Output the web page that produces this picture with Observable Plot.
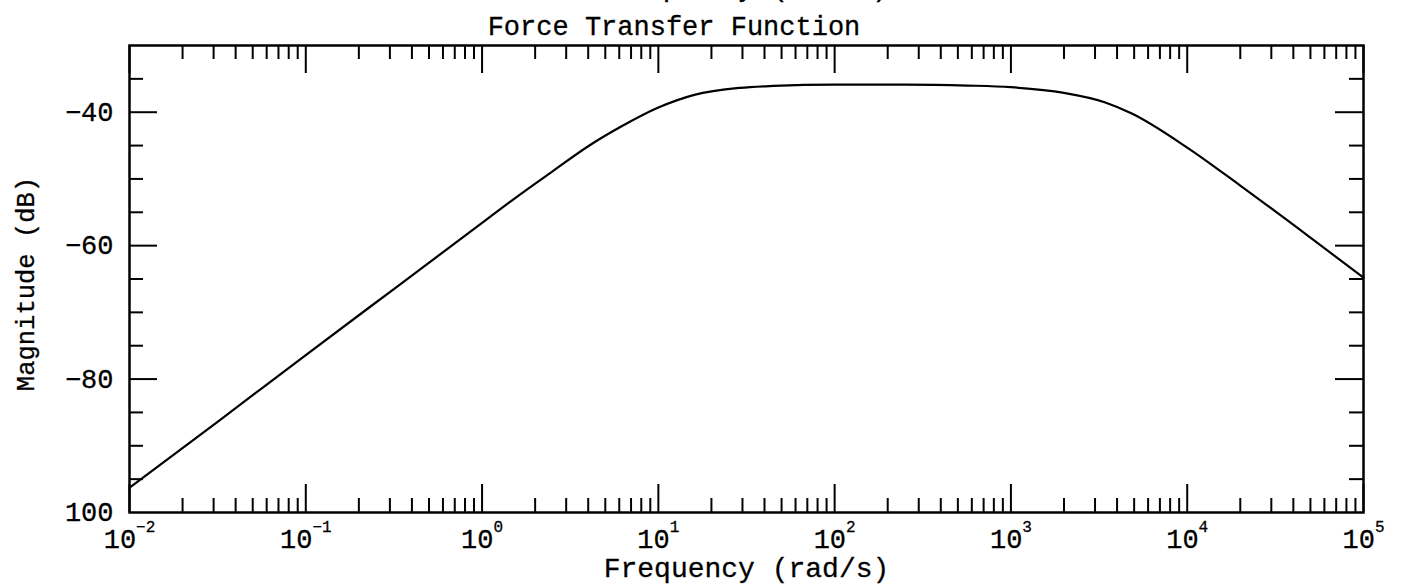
<!DOCTYPE html>
<html><head><meta charset="utf-8">
<script src="https://cdn.jsdelivr.net/npm/d3@7"></script>
<script src="https://cdn.jsdelivr.net/npm/@observablehq/plot@0.6"></script>
<style>
html,body{margin:0;padding:0;background:#fff;overflow:hidden}
#wrap{position:relative;width:1407px;height:585px;overflow:hidden;font-family:"Liberation Mono",monospace;color:#000;background:#fff}
.t{position:absolute;z-index:2;white-space:nowrap;font-size:27px;line-height:1;transform:translateX(-50%);-webkit-text-stroke:0.3px #000}
#chart{position:absolute;left:0;top:0;z-index:1}
#chart svg text{stroke:#000;stroke-width:0.3px}
</style></head><body>
<div id="wrap">
<div id="chart"></div>
<div class="t" id="prev"></div>
<div class="t" id="title"></div>
</div>
<script>
// ---- data ----
const frequency = [0.01, 0.0316, 0.1, 0.316, 1, 1.5, 2.5, 4, 6.3, 10, 16, 29, 45, 100, 250, 566, 1000, 2000, 3400, 4850, 10000, 20000, 50000, 100000];
const magnitude = [-96.3, -86.4, -76.4, -66.5, -56.6, -53.1, -48.9, -45.1, -42.0, -39.3, -37.4, -36.35, -36.05, -35.85, -35.85, -36.0, -36.25, -37.1, -38.5, -40.2, -45.3, -51.0, -58.8, -64.8];

const xDecades = [1e-2, 1e-1, 1e0, 1e1, 1e2, 1e3, 1e4, 1e5];
const xExponents = ["−2", "−1", "0", "1", "2", "3", "4", "5"];
const xMinorMultipliers = [2, 3, 4, 5, 6, 7, 8, 9];
const yMajor = [-40, -60, -80, -100];
const yTickLabels = ["−40", "−60", "−80", "100"];
const yMinor = [-35, -45, -50, -55, -65, -70, -75, -85, -90, -95];

const prevLabel = "Frequency (rad/s)";
const title = "Force Transfer Function";
const xLabel = "Frequency (rad/s)";
const yLabel = "Magnitude (dB)";

// ---- layout ----
const W = 1407, H = 585;
const mT = 45, mB = 73, mL = 129, mR = 44;
const FH = H - mT - mB, FW = W - mL - mR;
const LMAJ = 28, LMIN = 14;
const font = "Liberation Mono";

const data = frequency.map((f, i) => ({f, m: magnitude[i]}));
const xMinor = [];
for (let i = 0; i < xDecades.length - 1; i++) for (const k of xMinorMultipliers) xMinor.push(k * xDecades[i]);
const yMajorInner = yMajor.filter(v => v > -100);

const tick = {stroke: "black", strokeWidth: 2};

const svg = Plot.plot({
  width: W, height: H,
  marginTop: mT, marginBottom: mB, marginLeft: mL, marginRight: mR,
  style: {fontFamily: font, background: "transparent", color: "black"},
  x: {type: "log", domain: [1e-2, 1e5], label: null},
  y: {domain: [-100, -30], label: null},
  marks: [
    Plot.ruleX(xDecades, {...tick, insetTop: FH - LMAJ}),
    Plot.ruleX(xMinor, {...tick, insetTop: FH - LMIN}),
    Plot.ruleX(xDecades, {...tick, insetBottom: FH - LMAJ}),
    Plot.ruleX(xMinor, {...tick, insetBottom: FH - LMIN}),
    Plot.ruleY(yMajorInner, {...tick, insetRight: FW - LMAJ}),
    Plot.ruleY(yMinor, {...tick, insetRight: FW - LMIN}),
    Plot.ruleY(yMajorInner, {...tick, insetLeft: FW - LMAJ}),
    Plot.ruleY(yMinor, {...tick, insetLeft: FW - LMIN}),
    Plot.frame({stroke: "black", strokeWidth: 2.5}),
    Plot.line(data, {x: "f", y: "m", stroke: "black", strokeWidth: 2.2, curve: "monotone-x"}),
    Plot.axisX(xDecades, {anchor: "bottom", label: null, tickSize: 0, tickPadding: 16, fontSize: 27,
      tickFormat: d => "10|" + xExponents[xDecades.indexOf(d)]}),
    Plot.axisY(yMajor, {anchor: "left", label: null, tickSize: 0, tickPadding: 16, fontSize: 27,
      tickFormat: d => yTickLabels[yMajor.indexOf(d)]}),
    Plot.text([xLabel], {text: d => d, frameAnchor: "bottom", dy: 64, fontSize: 28}),
    Plot.text([yLabel], {text: d => d, frameAnchor: "left", textAnchor: "middle", rotate: -90, dx: -104, dy: 5, fontSize: 25.5})
  ]
});

d3.select(svg).selectAll('g[aria-label="x-axis tick label"] text').each(function () {
  const [base, exp] = this.textContent.split("|");
  this.textContent = base;
  d3.select(this).append("tspan").attr("dy", -16).attr("font-size", 16).text(exp);
});

document.getElementById("chart").appendChild(svg);

const prev = document.getElementById("prev");
prev.textContent = prevLabel;
prev.style.left = (mL + FW / 2) + "px";
prev.style.top = "-25px";
prev.style.fontSize = "28px";

const t = document.getElementById("title");
t.textContent = title;
t.style.left = "674px";
t.style.top = "15px";
</script>
</body></html>
